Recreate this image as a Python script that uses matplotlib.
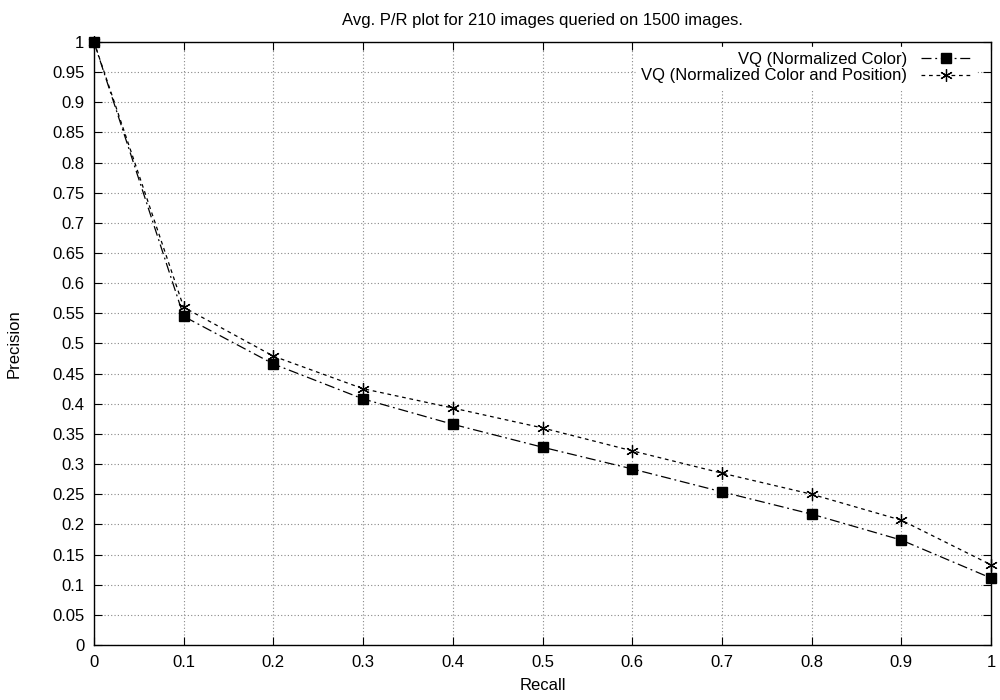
import matplotlib
matplotlib.use("Agg")
import matplotlib.pyplot as plt

plt.rcParams['font.family'] = ['Liberation Sans', 'DejaVu Sans']

recall = [0.0, 0.1, 0.2, 0.3, 0.4, 0.5, 0.6, 0.7, 0.8, 0.9, 1.0]
precision_color = [1.0, 0.545, 0.466, 0.408, 0.366, 0.328, 0.292, 0.254, 0.217, 0.174, 0.111]
precision_color_pos = [1.0, 0.560, 0.479, 0.425, 0.393, 0.360, 0.322, 0.285, 0.250, 0.207, 0.133]

label_color = "VQ (Normalized Color)"
label_color_pos = "VQ (Normalized Color and Position)"
title = "Avg. P/R plot for 210 images queried on 1500 images."

x_ticks = [0, 0.1, 0.2, 0.3, 0.4, 0.5, 0.6, 0.7, 0.8, 0.9, 1]
x_tick_labels = ["0", "0.1", "0.2", "0.3", "0.4", "0.5", "0.6", "0.7", "0.8", "0.9", "1"]
y_ticks = [i * 0.05 for i in range(21)]
y_tick_labels = ["0", "0.05", "0.1", "0.15", "0.2", "0.25", "0.3", "0.35", "0.4", "0.45", "0.5",
                 "0.55", "0.6", "0.65", "0.7", "0.75", "0.8", "0.85", "0.9", "0.95", "1"]

fig = plt.figure(figsize=(10, 7), dpi=100)
ax = fig.add_axes([0.094, 0.0786, 0.897, 0.8614])

ax.plot(recall, precision_color, color="black", linewidth=0.9,
        linestyle=(0, (8, 3, 1.5, 3)), marker="s", markersize=7,
        label=label_color, clip_on=False, zorder=3)
# asterisk marker (6 arms, one vertical)
ax.plot(recall, precision_color_pos, color="black", linewidth=0.9,
        linestyle=(0, (3, 3)), marker=(6, 2, 0), markersize=9,
        markeredgewidth=0.9, label=label_color_pos, clip_on=False, zorder=3)

ax.set_xlim(0, 1)
ax.set_ylim(0, 1)
ax.set_xticks(x_ticks)
ax.set_xticklabels(x_tick_labels)
ax.set_yticks(y_ticks)
ax.set_yticklabels(y_tick_labels)
ax.tick_params(direction="in", top=True, right=True, length=6, labelsize=12, pad=7)

ax.grid(True, color="#888888", linestyle=(0, (1, 2)), linewidth=0.8)
ax.set_axisbelow(True)
for s in ax.spines.values():
    s.set_linewidth(1.0)
    s.set_zorder(4)

ax.set_xlabel("Recall", fontsize=12, labelpad=6)
ax.set_ylabel("Precision", fontsize=12, labelpad=22)
ax.set_title(title, fontsize=12, pad=12)

leg = ax.legend(loc="upper right", bbox_to_anchor=(0.983, 0.992),
                markerfirst=False, alignment="right",
                fontsize=12, frameon=True, fancybox=False, borderaxespad=0,
                handlelength=3.0, labelspacing=0.1, borderpad=0.3)
leg.get_frame().set_facecolor("white")
leg.get_frame().set_edgecolor("white")
leg.get_frame().set_alpha(1.0)
leg.set_zorder(2.5)
for t in leg.get_texts():
    t.set_ha("right")

fig.savefig("out.png", dpi=100)
